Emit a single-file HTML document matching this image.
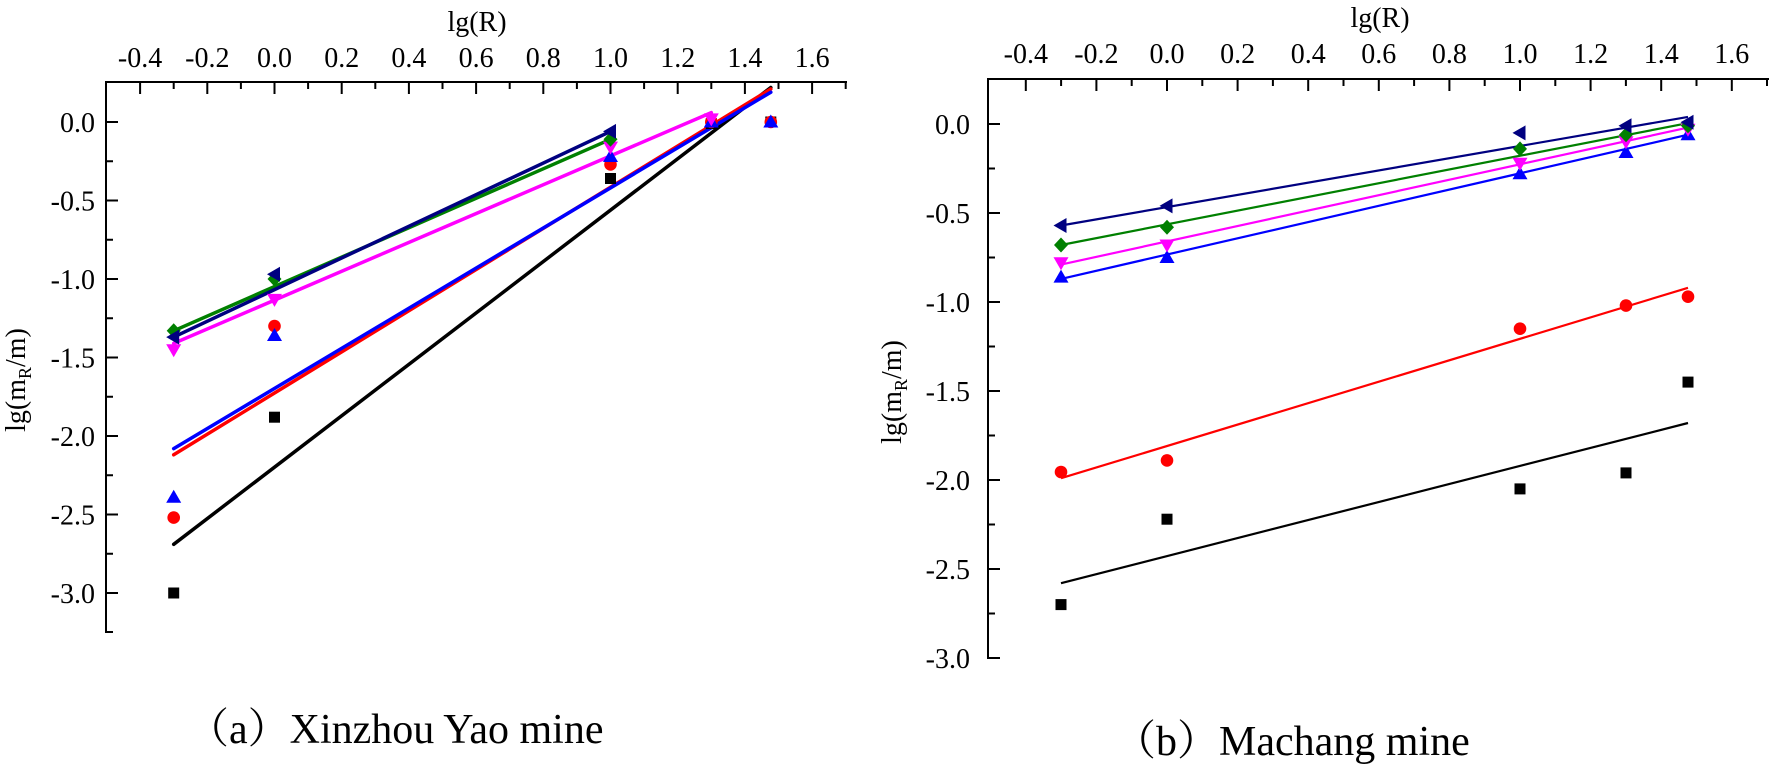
<!DOCTYPE html>
<html><head><meta charset="utf-8"><style>
html,body{margin:0;padding:0;background:#fff;}
svg{display:block;}
svg text{font-family:"Liberation Serif","Times New Roman","Nimbus Roman","Nimbus Roman No9 L","DejaVu Serif","Noto Serif CJK SC",serif !important;fill:#000;}
</style></head><body>
<svg width="1769" height="766" viewBox="0 0 1769 766" xmlns="http://www.w3.org/2000/svg">
<defs>
<rect id="sq" x="-5.5" y="-5.5" width="11" height="11"/>
<circle id="ci" r="6.3"/>
<polygon id="tu" points="0,-7.5 7.5,5.5 -7.5,5.5"/>
<polygon id="td" points="0,7.5 7.5,-5.5 -7.5,-5.5"/>
<polygon id="di" points="0,-7.5 7,0 0,7.5 -7,0"/>
<polygon id="tl" points="-7.5,0 5.5,-7.5 5.5,7.5"/>
</defs>

<g stroke="#000" stroke-width="2" fill="none">
<line x1="106" y1="82" x2="847" y2="82"/>
<line x1="106" y1="81" x2="106" y2="633"/>
<path d="M140.1,82v12M207.3,82v12M274.5,82v12M341.7,82v12M408.9,82v12M476.1,82v12M543.3,82v12M610.5,82v12M677.7,82v12M744.9,82v12M812.1,82v12"/>
<path d="M173.7,82v7M240.9,82v7M308.1,82v7M375.3,82v7M442.5,82v7M509.7,82v7M576.9,82v7M644.1,82v7M711.3,82v7M778.5,82v7M845.7,82v7"/>
<path d="M106,122h12M106,200.5h12M106,279h12M106,357.5h12M106,436h12M106,514.5h12M106,593h12"/>
<path d="M106,161.25h7M106,239.75h7M106,318.25h7M106,396.75h7M106,475.25h7M106,553.75h7M106,632h7"/>
</g>
<g font-size="28" text-anchor="middle">
<text x="140.1" y="67">-0.4</text><text x="207.3" y="67">-0.2</text><text x="274.5" y="67">0.0</text>
<text x="341.7" y="67">0.2</text><text x="408.9" y="67">0.4</text><text x="476.1" y="67">0.6</text>
<text x="543.3" y="67">0.8</text><text x="610.5" y="67">1.0</text><text x="677.7" y="67">1.2</text>
<text x="744.9" y="67">1.4</text><text x="812.1" y="67">1.6</text>
</g>
<g font-size="28" text-anchor="end">
<text x="95" y="132">0.0</text><text x="95" y="210.5">-0.5</text><text x="95" y="289">-1.0</text>
<text x="95" y="367.5">-1.5</text><text x="95" y="446">-2.0</text><text x="95" y="524.5">-2.5</text>
<text x="95" y="603">-3.0</text>
</g>
<text x="477" y="31" font-size="28" text-anchor="middle">lg(R)</text>
<text transform="translate(25,380) rotate(-90)" font-size="28" text-anchor="middle">lg(m<tspan font-size="18" dy="6">R</tspan><tspan dy="-6">/m)</tspan></text>

<g stroke-width="3.5" fill="none" stroke-linecap="round">
<line x1="173.7" y1="544.3" x2="770.8" y2="87.5" stroke="#000"/>
<line x1="173.7" y1="454.8" x2="770.8" y2="89" stroke="#ff0000"/>
<line x1="173.7" y1="448.6" x2="770.8" y2="92.2" stroke="#0000ff"/>
<line x1="173.7" y1="343.4" x2="711.3" y2="112.6" stroke="#ff00ff"/>
<line x1="173.7" y1="330.8" x2="610.5" y2="139.3" stroke="#008000"/>
<line x1="173.7" y1="337.1" x2="610.5" y2="131.4" stroke="#000080"/>
</g>
<g fill="#000">
<use href="#sq" x="173.7" y="593"/><use href="#sq" x="274.5" y="417.2"/><use href="#sq" x="610.5" y="178.5"/><use href="#sq" x="711.3" y="123.6"/><use href="#sq" x="770.8" y="122"/>
</g>
<g fill="#ff0000">
<use href="#ci" x="173.7" y="517.6"/><use href="#ci" x="274.5" y="326.1"/><use href="#ci" x="610.5" y="164.4"/><use href="#ci" x="711.3" y="122"/><use href="#ci" x="770.8" y="122"/>
</g>
<g fill="#0000ff">
<use href="#tu" x="173.7" y="497.2"/><use href="#tu" x="274.5" y="335.5"/><use href="#tu" x="610.5" y="156.5"/><use href="#tu" x="711.3" y="122"/><use href="#tu" x="770.8" y="122"/>
</g>
<g fill="#ff00ff">
<use href="#td" x="173.7" y="349.7"/><use href="#td" x="274.5" y="299.4"/><use href="#td" x="610.5" y="147.1"/><use href="#td" x="711.3" y="118.9"/>
</g>
<g fill="#008000">
<use href="#di" x="173.7" y="330.8"/><use href="#di" x="274.5" y="279"/><use href="#di" x="610.5" y="139.3"/>
</g>
<g fill="#000080">
<use href="#tl" x="173.7" y="337.1"/><use href="#tl" x="274.5" y="274.3"/><use href="#tl" x="610.5" y="131.4"/>
</g>
<text x="187" y="743" font-size="42">（a）Xinzhou Yao mine</text>

<g stroke="#000" stroke-width="2" fill="none">
<line x1="988" y1="79" x2="1769" y2="79"/>
<line x1="988" y1="78" x2="988" y2="659"/>
<path d="M1025.8,79v12M1096.4,79v12M1167,79v12M1237.6,79v12M1308.2,79v12M1378.8,79v12M1449.4,79v12M1520,79v12M1590.6,79v12M1661.2,79v12M1731.8,79v12"/>
<path d="M1061.1,79v7M1131.7,79v7M1202.3,79v7M1272.9,79v7M1343.5,79v7M1414.1,79v7M1484.7,79v7M1555.3,79v7M1625.9,79v7M1696.5,79v7M1767,79v7"/>
<path d="M988,124h12M988,213h12M988,302h12M988,391h12M988,480h12M988,569h12M988,658h12"/>
<path d="M988,168.5h7M988,257.5h7M988,346.5h7M988,435.5h7M988,524.5h7M988,613.5h7"/>
</g>
<g font-size="28" text-anchor="middle">
<text x="1025.8" y="63">-0.4</text><text x="1096.4" y="63">-0.2</text><text x="1167" y="63">0.0</text>
<text x="1237.6" y="63">0.2</text><text x="1308.2" y="63">0.4</text><text x="1378.8" y="63">0.6</text>
<text x="1449.4" y="63">0.8</text><text x="1520" y="63">1.0</text><text x="1590.6" y="63">1.2</text>
<text x="1661.2" y="63">1.4</text><text x="1731.8" y="63">1.6</text>
</g>
<g font-size="28" text-anchor="end">
<text x="970" y="134">0.0</text><text x="970" y="223">-0.5</text><text x="970" y="312">-1.0</text>
<text x="970" y="401">-1.5</text><text x="970" y="490">-2.0</text><text x="970" y="579">-2.5</text>
<text x="970" y="668">-3.0</text>
</g>
<text x="1380" y="27" font-size="28" text-anchor="middle">lg(R)</text>
<text transform="translate(901,392) rotate(-90)" font-size="28" text-anchor="middle">lg(m<tspan font-size="18" dy="6">R</tspan><tspan dy="-6">/m)</tspan></text>

<g stroke-width="2.2" fill="none">
<line x1="1061" y1="583.2" x2="1688" y2="423" stroke="#000"/>
<line x1="1061" y1="478.2" x2="1688" y2="287.8" stroke="#ff0000"/>
<line x1="1061" y1="278.9" x2="1688" y2="134.7" stroke="#0000ff"/>
<line x1="1061" y1="264.6" x2="1688" y2="127.6" stroke="#ff00ff"/>
<line x1="1061" y1="245" x2="1688" y2="123.1" stroke="#008000"/>
<line x1="1061" y1="225.5" x2="1688" y2="116.9" stroke="#000080"/>
</g>
<g fill="#000">
<use href="#sq" x="1061" y="604.6"/><use href="#sq" x="1167" y="519.2"/><use href="#sq" x="1520" y="488.9"/><use href="#sq" x="1626" y="472.9"/><use href="#sq" x="1688" y="382.1"/>
</g>
<g fill="#ff0000">
<use href="#ci" x="1061" y="472"/><use href="#ci" x="1167" y="460.4"/><use href="#ci" x="1520" y="328.7"/><use href="#ci" x="1626" y="305.6"/><use href="#ci" x="1688" y="296.7"/>
</g>
<g fill="#0000ff">
<use href="#tu" x="1061" y="277.1"/><use href="#tu" x="1167" y="257.5"/><use href="#tu" x="1520" y="173.8"/><use href="#tu" x="1626" y="152.5"/><use href="#tu" x="1688" y="134.7"/>
</g>
<g fill="#ff00ff">
<use href="#td" x="1061" y="262.8"/><use href="#td" x="1167" y="245"/><use href="#td" x="1520" y="163.2"/><use href="#td" x="1626" y="141.8"/><use href="#td" x="1688" y="129.3"/>
</g>
<g fill="#008000">
<use href="#di" x="1061" y="245"/><use href="#di" x="1167" y="227.2"/><use href="#di" x="1520" y="148.9"/><use href="#di" x="1626" y="134.7"/><use href="#di" x="1688" y="125.8"/>
</g>
<g fill="#000080">
<use href="#tl" x="1061" y="225.5"/><use href="#tl" x="1167" y="205.9"/><use href="#tl" x="1520" y="132.9"/><use href="#tl" x="1626" y="125.8"/><use href="#tl" x="1688" y="122.2"/>
</g>
<text x="1114" y="755" font-size="42">（b）Machang mine</text>
</svg>
</body></html>
